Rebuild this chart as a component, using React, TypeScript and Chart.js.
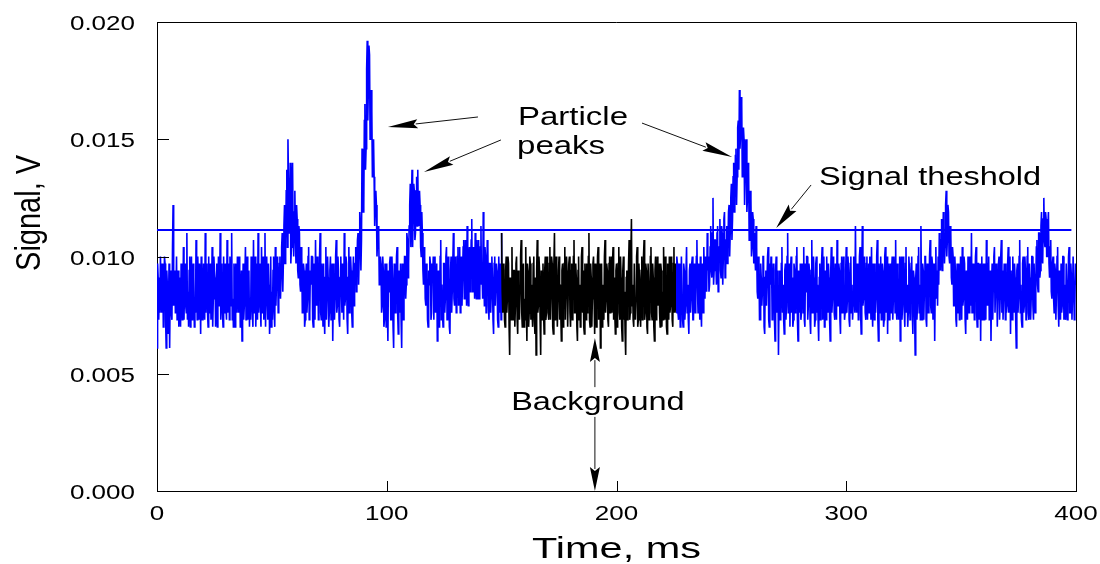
import { useEffect, useRef } from 'react';
import { Chart, registerables } from 'chart.js';

Chart.register(...registerables);

// ---------- DATA ----------
// Sampled detector signal, one value every 0.25 ms, in units of 0.1 mV (0.0001 V)
const sampleIntervalMs = 0.25;
const signalTenthMv = [
  61,97, 91,73, 85,76, 100,88, 76,97, 94,70, 82,100, 97,73, 61,94, 88,67, 79,97, 61,85, 94,76, 73,104, 122,79, 85,94, 76,82, 100,73, 88,94, 70,91,
  82,70, 97,91, 73,79, 104,73, 88,97, 79,76, 110,73, 85,70, 94,100, 70,88, 100,73, 76,97, 91,70, 82,76, 107,94, 73,100, 88,73, 97,88, 67,100, 94,73,
  85,97, 79,73, 110,76, 91,97, 76,70, 100,76, 88,97, 73,82, 104,70, 82,100, 94,91, 70,79, 97,70, 85,100, 79,85, 110,73, 88,97, 76,70, 100,76, 91,97,
  79,73, 107,76, 85,97, 73,100, 94,79, 110,73, 82,70, 97,88, 70,97, 88,76, 100,94, 76,100, 91,70, 85,94, 64,82, 97,73, 79,91, 104,73, 88,100, 73,85,
  94,70, 82,73, 100,91, 76,70, 107,76, 88,100, 70,82, 97,73, 110,76, 85,97, 79,70, 104,76, 91,100, 73,85, 110,70, 88,100, 82,73, 97,88, 67,79, 100,70,
  85,73, 94,100, 76,70, 104,79, 88,100, 97,76, 82,97, 100,82, 91,104, 110,85, 97,113, 122,97, 107,128, 137,104, 150,131, 110,119, 140,97, 104,128, 140,110, 100,119,
  128,107, 97,122, 116,94, 91,113, 110,88, 85,104, 100,76, 79,97, 94,70, 73,91, 97,76, 82,100, 104,73, 76,94, 88,100, 100,73, 70,97, 91,73, 107,85, 79,100,
  94,73, 82,100, 110,76, 73,97, 88,70, 97,76, 67,91, 104,73, 85,100, 91,70, 76,94, 100,73, 88,97, 64,85, 97,73, 82,100, 107,76, 79,100, 94,73, 70,91,
  100,88, 76,97, 91,73, 110,79, 82,100, 97,73, 67,91, 104,76, 85,100, 94,76, 70,91, 100,79, 88,97, 104,85, 94,107, 110,88, 100,119, 113,94, 107,146, 134,119,
  122,158, 165,137, 146,180, 192,158, 172,190, 186,150, 158,171, 162,134, 140,150, 134,113, 122,128, 122,100, 107,113, 110,88, 94,100, 97,76, 79,100, 94,70, 73,97, 88,70,
  97,79, 64,94, 85,97, 100,73, 73,100, 91,70, 61,97, 94,76, 79,100, 104,76, 67,94, 88,76, 97,73, 61,97, 91,73, 82,100, 100,82, 88,110, 107,91, 97,113,
  122,131, 104,125, 137,104, 116,131, 128,107, 110,128, 134,113, 137,116, 113,128, 122,104, 100,119, 110,94, 88,104, 100,82, 79,97, 94,73, 70,94, 88,100, 97,73, 76,97,
  91,100, 73,94, 100,76, 85,97, 64,91, 94,70, 79,100, 107,73, 88,76, 70,97, 97,76, 82,100, 104,73, 76,100, 91,70, 67,94, 100,76, 85,97, 110,82, 79,100,
  94,76, 82,100, 104,79, 88,104, 76,97, 100,79, 91,104, 107,82, 85,107, 97,79, 113,88, 79,100, 104,85, 91,107, 116,85, 88,104, 100,82, 110,91, 82,107, 97,82,
  107,82, 85,104, 113,88, 94,82, 119,91, 79,104, 100,76, 88,107, 104,79, 73,97, 97,76, 85,100, 91,73, 67,97, 100,79, 79,97, 94,73, 70,100, 88,76, 97,73,
  110,85, 76,97, 94,73, 70,94, 100,76, 82,100, 97,70, 58,91, 88,73, 104,76, 73,94, 94,70, 79,97, 100,73, 67,94, 91,73, 85,100, 107,76, 70,94, 97,70,
  82,73, 104,79, 64,97, 94,70, 76,100, 97,73, 88,76, 70,97, 100,73, 67,91, 58,94, 107,76, 79,100, 94,73, 58,94, 85,73, 97,76, 67,94, 100,73, 76,100,
  94,76, 73,97, 104,73, 85,100, 97,70, 67,97, 110,73, 82,100, 91,70, 70,94, 100,73, 88,76, 64,94, 97,70, 79,97, 104,73, 73,100, 94,70, 85,97, 100,76,
  70,94, 97,73, 82,100, 107,76, 76,97, 91,70, 64,94, 100,73, 88,70, 73,100, 104,76, 94,70, 67,97, 85,73, 97,76, 79,100, 110,73, 70,97, 91,70, 82,97,
  100,82, 67,97, 94,70, 79,100, 104,73, 85,97, 61,94, 97,70, 88,76, 73,100, 107,76, 82,97, 94,73, 70,97, 100,76, 85,100, 76,97, 104,73, 91,76, 67,94,
  97,70, 79,97, 104,76, 73,100, 91,70, 64,94, 100,73, 85,67, 58,91, 94,73, 82,97, 107,73, 76,100, 116,79, 88,73, 70,97, 97,73, 82,100, 104,70, 73,97,
  91,76, 70,94, 100,73, 85,100, 107,73, 76,97, 94,70, 67,97, 97,73, 82,100, 104,76, 73,97, 91,70, 64,94, 100,73, 88,100, 79,94, 97,76, 70,97, 94,70,
  85,73, 104,79, 73,100, 97,70, 67,97, 91,73, 100,76, 79,100, 94,73, 70,97, 104,76, 85,97, 76,100, 97,76, 73,97, 91,70, 82,100, 100,73, 70,97, 94,73,
  79,94, 104,76, 88,73, 67,94, 97,76, 82,97, 100,73, 73,97, 94,76, 85,100, 107,85, 76,97, 91,73, 100,79, 70,97, 88,76, 104,91, 82,100, 97,85, 110,94,
  100,85, 88,104, 113,94, 91,110, 125,88, 94,107, 107,97, 88,110, 113,85, 97,104, 116,94, 91,113, 110,88, 100,116, 119,91, 94,107, 113,97, 104,119, 122,100, 110,125,
  131,107, 116,134, 140,119, 125,143, 146,122, 134,155, 158,137, 171,146, 152,168, 165,134, 140,155, 150,122, 134,146, 150,119, 125,140, 137,107, 116,128, 125,100, 104,119, 116,97,
  110,100, 94,113, 104,85, 82,100, 97,73, 73,97, 91,79, 85,100, 100,70, 67,91, 94,79, 79,100, 104,73, 70,97, 88,100, 97,73, 76,97, 91,73, 64,94, 100,76,
  82,94, 58,82, 94,73, 76,97, 104,76, 88,73, 67,94, 97,73, 79,100, 110,76, 85,97, 70,94, 100,76, 91,70, 73,97, 94,76, 82,100, 104,73, 64,94, 88,76,
  97,73, 76,97, 91,76, 104,73, 70,97, 85,100, 100,73, 79,97, 94,73, 67,94, 107,76, 82,100, 91,70, 73,97, 100,76, 88,73, 64,91, 97,73, 79,97, 104,73,
  85,100, 70,91, 94,73, 100,79, 76,97, 91,73, 64,94, 104,76, 82,100, 97,76, 73,97, 88,73, 107,79, 79,97, 94,73, 67,97, 100,76, 85,100, 91,73, 76,94,
  104,76, 82,100, 94,73, 70,97, 100,76, 88,73, 79,100, 97,76, 113,85, 76,97, 91,73, 85,100, 104,76, 67,91, 113,79, 82,100, 97,76, 73,97, 100,73, 88,97,
  76,100, 94,73, 104,79, 70,97, 88,73, 97,76, 82,100, 107,73, 64,97, 91,76, 100,73, 79,97, 94,70, 73,100, 104,76, 85,100, 67,91, 97,73, 88,97, 76,94,
  100,73, 82,100, 91,76, 107,79, 73,97, 94,73, 85,100, 64,94, 100,73, 79,100, 97,76, 70,97, 104,76, 88,70, 76,100, 94,73, 82,97, 100,76, 67,94, 91,76,
  58,91, 97,73, 79,100, 104,76, 88,73, 113,82, 73,97, 94,73, 85,100, 100,73, 70,97, 91,76, 82,100, 107,79, 76,100, 97,73, 88,97, 64,91, 104,82, 94,79,
  100,88, 110,97, 94,107, 116,94, 100,119, 113,97, 104,122, 128,100, 107,122, 119,100, 97,113, 110,91, 88,104, 100,79, 79,100, 94,73, 70,97, 88,76, 97,73, 76,100,
  91,73, 104,79, 82,100, 97,73, 67,94, 88,73, 100,76, 76,100, 94,79, 110,76, 79,97, 91,73, 85,100, 104,76, 70,97, 97,73, 82,97, 64,94, 100,73, 88,97,
  73,97, 94,73, 107,82, 79,97, 100,73, 85,94, 64,88, 97,73, 88,100, 104,76, 76,97, 91,70, 70,97, 100,73, 82,100, 107,76, 94,73, 73,97, 88,73, 97,76,
  79,97, 104,76, 85,100, 67,94, 94,73, 100,79, 76,97, 91,73, 61,94, 97,76, 82,100, 107,76, 88,73, 70,97, 100,76, 79,100, 94,73, 85,100, 104,76, 73,97,
  91,73, 82,100, 100,79, 73,97, 97,76, 88,104, 107,88, 85,110, 110,91, 94,113, 119,100, 97,116, 125,107, 104,119, 116,100, 100,113, 119,97, 91,104, 107,85, 82,97,
  100,82, 76,97, 94,73, 85,100, 104,79, 70,94, 91,73, 97,76, 79,100, 100,73, 88,76, 73,97, 97,73, 82,100, 104,76, 76,97, 91,73, 85,100, 100,73, 79,97,
  88,
];

const thresholdV = 0.01113;
const thresholdRangeMs = [0, 398];
const backgroundRangeMs = [150, 226];

const xTickValues = [0, 100, 200, 300, 400];
const xTickLabels = ['0', '100', '200', '300', '400'];
const yTickValues = [0, 0.005, 0.01, 0.015, 0.02];
const yTickLabels = ['0.000', '0.005', '0.010', '0.015', '0.020'];

const xTitle = 'Time, ms';
const yTitle = 'Signal, V';

// annotation texts (anchor in data units: ms, V)
const noteTexts = [
  { text: 'Particle', x: 157.1, y: 0.01559, align: 'left' },
  { text: 'peaks', x: 156.7, y: 0.01437, align: 'left' },
  { text: 'Signal theshold', x: 288.1, y: 0.01305, align: 'left' },
  { text: 'Background', x: 191.9, y: 0.00345, align: 'center' },
];
// arrows: from -> tip (data units)
const noteArrows = [
  { from: [139.7, 0.01595], to: [100.5, 0.01552] },
  { from: [149.7, 0.01497], to: [116.2, 0.0136] },
  { from: [211.1, 0.01569], to: [250.3, 0.01424] },
  { from: [284.7, 0.01305], to: [269.5, 0.01122] },
  { from: [190.6, 0.00443], to: [190.6, 0.00652] },
  { from: [190.6, 0.00316], to: [190.6, 0.0] },
];

// ---------- STYLE ----------
const FONT = '"Liberation Sans", Arial, Helvetica, sans-serif';
const BLUE = '#0000ff';
const BLACK = '#000000';

function stretchedText(
  ctx: CanvasRenderingContext2D,
  text: string,
  x: number,
  y: number,
  size: number,
  sx: number,
  align: CanvasTextAlign,
  rotate = 0,
  sy = 1
) {
  ctx.save();
  ctx.translate(x, y);
  if (rotate) ctx.rotate(rotate);
  ctx.scale(sx, sy);
  ctx.font = `${size}px ${FONT}`;
  ctx.textAlign = align;
  ctx.textBaseline = 'alphabetic';
  ctx.fillStyle = BLACK;
  ctx.fillText(text, 0, 0);
  ctx.restore();
}

function drawArrow(
  ctx: CanvasRenderingContext2D,
  x0: number,
  y0: number,
  x1: number,
  y1: number,
  headLen: number,
  halfW: number
) {
  const dx = x1 - x0;
  const dy = y1 - y0;
  const len = Math.hypot(dx, dy) || 1;
  const ux = dx / len;
  const uy = dy / len;
  const bx = x1 - ux * headLen;
  const by = y1 - uy * headLen;
  ctx.beginPath();
  ctx.moveTo(x0, y0);
  ctx.lineTo(bx + ux * 2, by + uy * 2);
  ctx.stroke();
  ctx.beginPath();
  ctx.moveTo(x1, y1);
  ctx.lineTo(bx - uy * halfW, by + ux * halfW);
  ctx.lineTo(bx + ux * 4, by + uy * 4);
  ctx.lineTo(bx + uy * halfW, by - ux * halfW);
  ctx.closePath();
  ctx.fill();
}

const decorPlugin = {
  id: 'decor',
  afterDraw(chart: any) {
    const { ctx, chartArea: a } = chart;
    const xs = chart.scales.x;
    const ys = chart.scales.y;
    ctx.save();
    ctx.strokeStyle = BLACK;
    ctx.lineWidth = 1;
    // top & right frame
    ctx.beginPath();
    ctx.moveTo(Math.round(a.left), Math.round(a.top) + 0.5);
    ctx.lineTo(Math.round(a.right) + 0.5, Math.round(a.top) + 0.5);
    ctx.lineTo(Math.round(a.right) + 0.5, Math.round(a.bottom));
    ctx.stroke();
    // inward ticks
    ctx.beginPath();
    yTickValues.forEach((v) => {
      const py = Math.round(ys.getPixelForValue(v)) + 0.5;
      ctx.moveTo(a.left, py);
      ctx.lineTo(a.left + 12, py);
    });
    xTickValues.forEach((v) => {
      const px = Math.round(xs.getPixelForValue(v)) + 0.5;
      ctx.moveTo(px, a.bottom);
      ctx.lineTo(px, a.bottom - 10);
    });
    ctx.stroke();
    // tick labels
    yTickValues.forEach((v, i) => {
      stretchedText(ctx, yTickLabels[i], a.left - 22, ys.getPixelForValue(v) + 8, 20, 1.3, 'right');
    });
    xTickValues.forEach((v, i) => {
      stretchedText(ctx, xTickLabels[i], xs.getPixelForValue(v), a.bottom + 29, 20, 1.3, 'center');
    });
    // axis titles
    stretchedText(ctx, xTitle, (a.left + a.right) / 2, a.bottom + 67, 29, 1.43, 'center');
    stretchedText(ctx, yTitle, a.left - 117, a.top + 0.407 * (a.bottom - a.top), 29, 1, 'center', -Math.PI / 2, 1.19);
    // annotations
    noteTexts.forEach((n) => {
      const big = n.text === 'Particle' || n.text === 'peaks';
      stretchedText(
        ctx,
        n.text,
        xs.getPixelForValue(n.x),
        ys.getPixelForValue(n.y),
        big ? 26 : 25,
        big ? 1.27 : 1.3,
        n.align as CanvasTextAlign
      );
    });
    ctx.fillStyle = BLACK;
    ctx.strokeStyle = '#111';
    noteArrows.forEach((ar, i) => {
      const head = i < 3 ? 30 : i === 3 ? 26 : 24;
      const half = i < 3 ? 4.5 : 5;
      drawArrow(
        ctx,
        xs.getPixelForValue(ar.from[0]),
        ys.getPixelForValue(ar.from[1]),
        xs.getPixelForValue(ar.to[0]),
        ys.getPixelForValue(ar.to[1]),
        head,
        half
      );
    });
    ctx.restore();
  },
};

export default function App() {
  const canvasRef = useRef<HTMLCanvasElement | null>(null);

  useEffect(() => {
    const canvas = canvasRef.current;
    if (!canvas) return;
    const signalPoints = signalTenthMv.map((v, i) => ({ x: i * sampleIntervalMs, y: v / 10000 }));
    const thresholdPoints = thresholdRangeMs.map((t) => ({ x: t, y: thresholdV }));

    const chart = new Chart(canvas, {
      type: 'line',
      data: {
        datasets: [
          {
            label: 'Signal',
            data: signalPoints,
            borderColor: BLUE,
            borderWidth: 1.6,
            borderJoinStyle: 'miter',
            pointRadius: 0,
            tension: 0,
            fill: false,
            segment: {
              borderColor: (c: any) => {
                const x0 = c.p0.parsed.x;
                return x0 >= backgroundRangeMs[0] && x0 < backgroundRangeMs[1] ? BLACK : BLUE;
              },
            },
          },
          {
            label: 'Threshold',
            data: thresholdPoints,
            borderColor: BLUE,
            borderWidth: 2,
            pointRadius: 0,
            fill: false,
          },
        ],
      },
      options: {
        responsive: false,
        animation: false,
        events: [],
        layout: { padding: { left: 157, top: 22, right: 24, bottom: 73 } },
        plugins: { legend: { display: false }, tooltip: { enabled: false } },
        scales: {
          x: {
            type: 'linear',
            min: 0,
            max: 400,
            ticks: { display: false },
            grid: { display: false, drawTicks: false },
            border: { display: true, color: BLACK, width: 1 },
          },
          y: {
            type: 'linear',
            min: 0,
            max: 0.02,
            ticks: { display: false },
            grid: { display: false, drawTicks: false },
            border: { display: true, color: BLACK, width: 1 },
          },
        },
      },
      plugins: [decorPlugin],
    } as any);

    return () => chart.destroy();
  }, []);

  return (
    <div style={{ position: 'fixed', left: 0, top: 0, width: 1100, height: 564, background: '#fff' }}>
      <canvas ref={canvasRef} width={1100} height={564} style={{ width: 1100, height: 564, display: 'block' }} />
    </div>
  );
}
